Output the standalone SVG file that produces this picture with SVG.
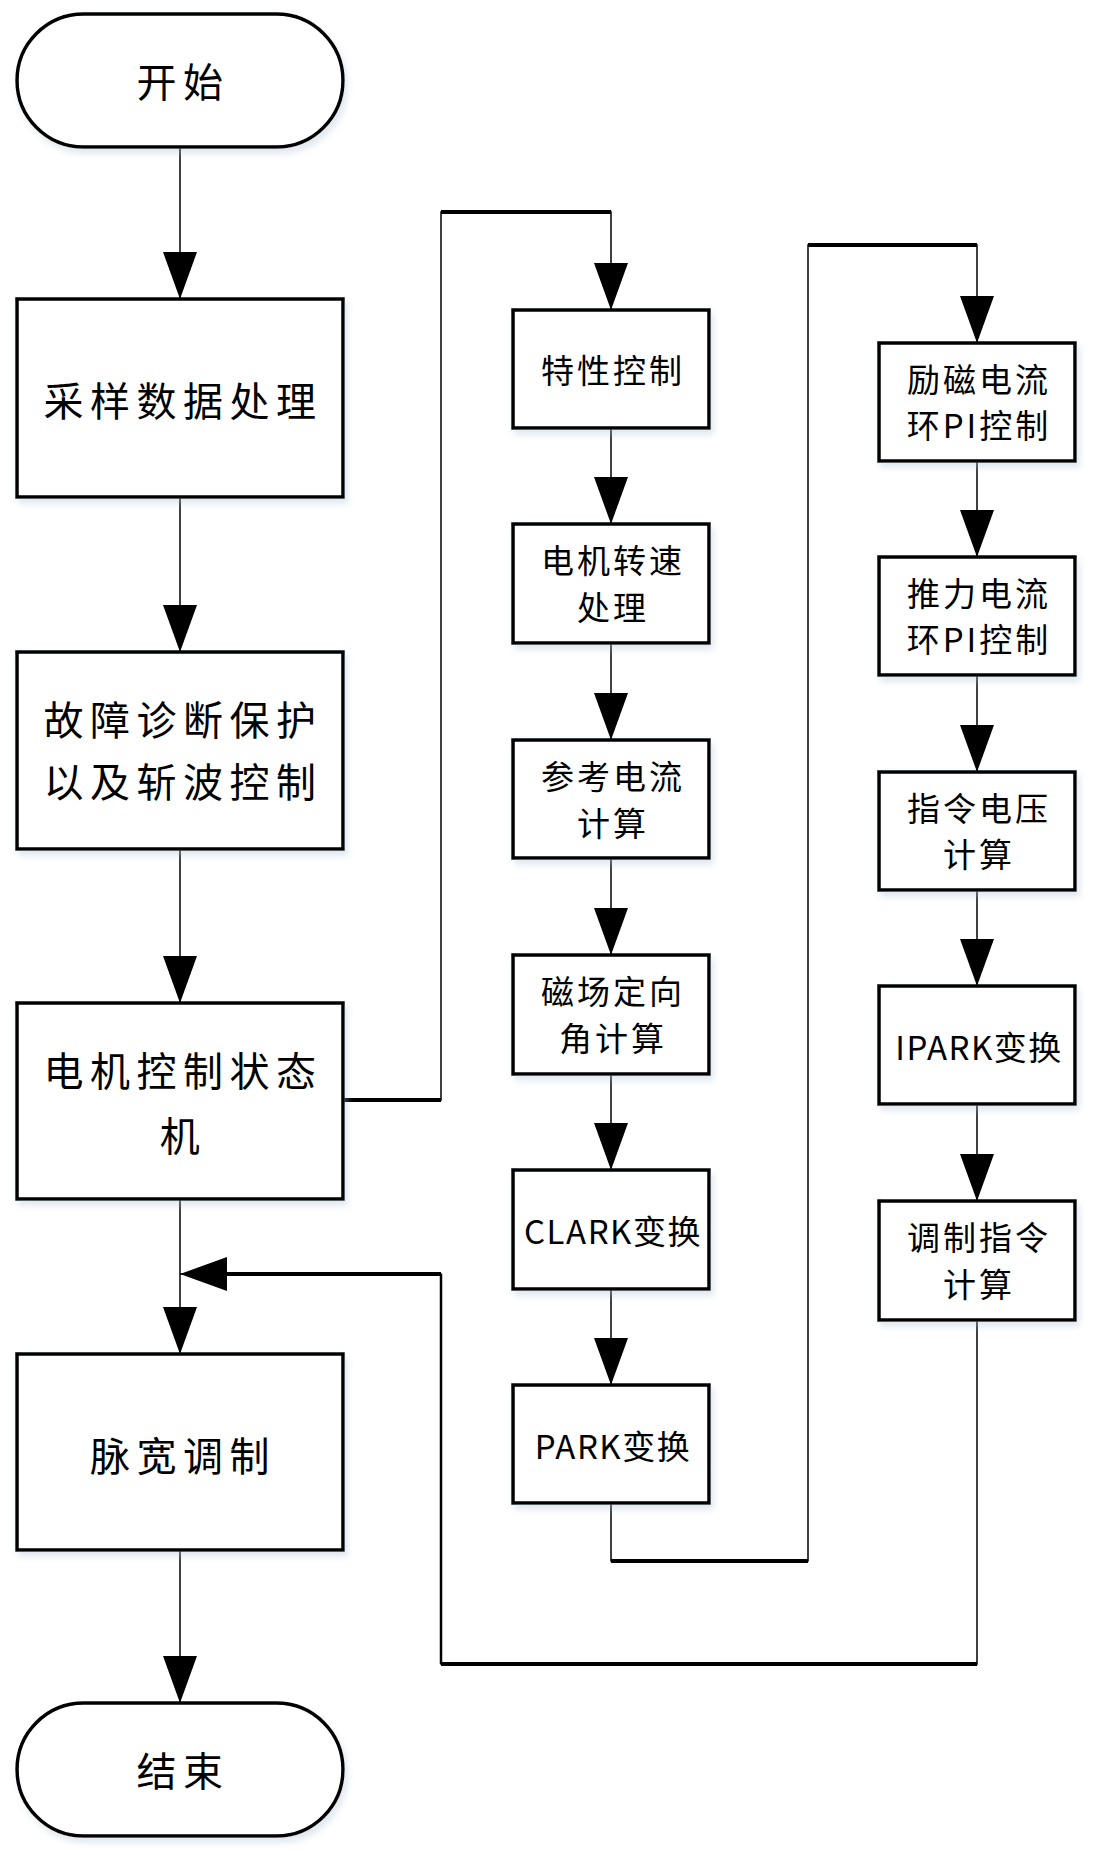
<svg xmlns="http://www.w3.org/2000/svg" width="1095" height="1855" viewBox="0 0 1095 1855">
<defs>
<filter id="sh" x="-10%" y="-10%" width="125%" height="130%">
<feDropShadow dx="3" dy="5" stdDeviation="3" flood-color="#a8bcd0" flood-opacity="0.35"/>
</filter>
<marker id="ah" markerUnits="userSpaceOnUse" markerWidth="48" markerHeight="34" refX="47" refY="17" orient="auto">
<path d="M0,0 L47,17 L0,34 Z" fill="#000"/>
</marker>
</defs>
<style>
.box{fill:#fff;stroke:#000;stroke-width:3.5;}
.t1{font-family:"Noto Sans CJK SC","Microsoft YaHei",sans-serif;font-size:40px;letter-spacing:6.5px;text-anchor:middle;dominant-baseline:central;fill:#000;}
.t2{font-family:"Noto Sans CJK SC","Microsoft YaHei",sans-serif;font-size:33px;letter-spacing:3px;text-anchor:middle;dominant-baseline:central;fill:#000;}
.lat{letter-spacing:1.5px;}
.thin{fill:none;stroke:#000;stroke-width:1.5;}
.thick{fill:none;stroke:#000;stroke-width:4;}
.mid{fill:none;stroke:#000;stroke-width:2.5;}
</style>
<g id="connectors">
<path class="thin" d="M180,147 V299" marker-end="url(#ah)"/>
<path class="thin" d="M180,497 V652" marker-end="url(#ah)"/>
<path class="thin" d="M180,849 V1003" marker-end="url(#ah)"/>
<path class="thin" d="M180,1199 V1354" marker-end="url(#ah)"/>
<path class="thin" d="M180,1550 V1703" marker-end="url(#ah)"/>
<path class="thin" d="M343,1100 H441 V212 H611 V310" marker-end="url(#ah)"/>
<path class="thick" d="M343,1100 H441"/>
<path class="thick" d="M441,212 H611"/>
<path class="thin" d="M611,428 V524" marker-end="url(#ah)"/>
<path class="thin" d="M611,643 V740" marker-end="url(#ah)"/>
<path class="thin" d="M611,858 V955" marker-end="url(#ah)"/>
<path class="thin" d="M611,1074 V1170" marker-end="url(#ah)"/>
<path class="thin" d="M611,1289 V1385" marker-end="url(#ah)"/>
<path class="thin" d="M611,1503 V1561 H808 V245 H977 V343" marker-end="url(#ah)"/>
<path class="thick" d="M611,1561 H808"/>
<path class="thick" d="M808,245 H977"/>
<path class="thin" d="M977,461 V557" marker-end="url(#ah)"/>
<path class="thin" d="M977,675 V772" marker-end="url(#ah)"/>
<path class="thin" d="M977,890 V986" marker-end="url(#ah)"/>
<path class="thin" d="M977,1104 V1201" marker-end="url(#ah)"/>
<path class="thin" d="M977,1320 V1664 H441 V1274 H180" marker-end="url(#ah)"/>
<path class="thick" d="M977,1664 H441"/>
<path class="mid" d="M441,1664 V1274"/>
<path class="thick" d="M441,1274 H200"/>
</g>
<g id="start">
<rect x="17" y="14" width="326" height="133" rx="66.5" ry="66.5" class="box" filter="url(#sh)"/>
<text class="t1" x="183" y="80">开始</text>
</g>
<g id="sampling">
<rect x="17" y="299" width="326" height="198" class="box" filter="url(#sh)"/>
<text class="t1" x="183" y="399">采样数据处理</text>
</g>
<g id="fault">
<rect x="17" y="652" width="326" height="197" class="box" filter="url(#sh)"/>
<text class="t1" x="183" y="718">故障诊断保护</text>
<text class="t1" x="183" y="780">以及斩波控制</text>
</g>
<g id="statemachine">
<rect x="17" y="1003" width="326" height="196" class="box" filter="url(#sh)"/>
<text class="t1" x="183" y="1069">电机控制状态</text>
<text class="t1" x="183" y="1134">机</text>
</g>
<g id="pwm">
<rect x="17" y="1354" width="326" height="196" class="box" filter="url(#sh)"/>
<text class="t1" x="183" y="1454">脉宽调制</text>
</g>
<g id="end">
<rect x="17" y="1703" width="326" height="133" rx="66.5" ry="66.5" class="box" filter="url(#sh)"/>
<text class="t1" x="183" y="1769">结束</text>
</g>
<g id="characteristic">
<rect x="513" y="310" width="196" height="118" class="box" filter="url(#sh)"/>
<text class="t2" x="613" y="369">特性控制</text>
</g>
<g id="speed">
<rect x="513" y="524" width="196" height="119" class="box" filter="url(#sh)"/>
<text class="t2" x="613" y="559">电机转速</text>
<text class="t2" x="613" y="606">处理</text>
</g>
<g id="refcurrent">
<rect x="513" y="740" width="196" height="118" class="box" filter="url(#sh)"/>
<text class="t2" x="613" y="775">参考电流</text>
<text class="t2" x="613" y="822">计算</text>
</g>
<g id="fieldangle">
<rect x="513" y="955" width="196" height="119" class="box" filter="url(#sh)"/>
<text class="t2" x="613" y="990">磁场定向</text>
<text class="t2" x="613" y="1037">角计算</text>
</g>
<g id="clark">
<rect x="513" y="1170" width="196" height="119" class="box" filter="url(#sh)"/>
<text class="t2 lat" x="613" y="1230">CLARK变换</text>
</g>
<g id="park">
<rect x="513" y="1385" width="196" height="118" class="box" filter="url(#sh)"/>
<text class="t2 lat" x="613" y="1445">PARK变换</text>
</g>
<g id="excitation">
<rect x="879" y="343" width="196" height="118" class="box" filter="url(#sh)"/>
<text class="t2" x="979" y="378">励磁电流</text>
<text class="t2" x="979" y="424">环PI控制</text>
</g>
<g id="thrust">
<rect x="879" y="557" width="196" height="118" class="box" filter="url(#sh)"/>
<text class="t2" x="979" y="592">推力电流</text>
<text class="t2" x="979" y="638">环PI控制</text>
</g>
<g id="voltage">
<rect x="879" y="772" width="196" height="118" class="box" filter="url(#sh)"/>
<text class="t2" x="979" y="807">指令电压</text>
<text class="t2" x="979" y="853">计算</text>
</g>
<g id="ipark">
<rect x="879" y="986" width="196" height="118" class="box" filter="url(#sh)"/>
<text class="t2 lat" x="979" y="1046">IPARK变换</text>
</g>
<g id="modulation">
<rect x="879" y="1201" width="196" height="119" class="box" filter="url(#sh)"/>
<text class="t2" x="979" y="1236">调制指令</text>
<text class="t2" x="979" y="1283">计算</text>
</g>
</svg>
